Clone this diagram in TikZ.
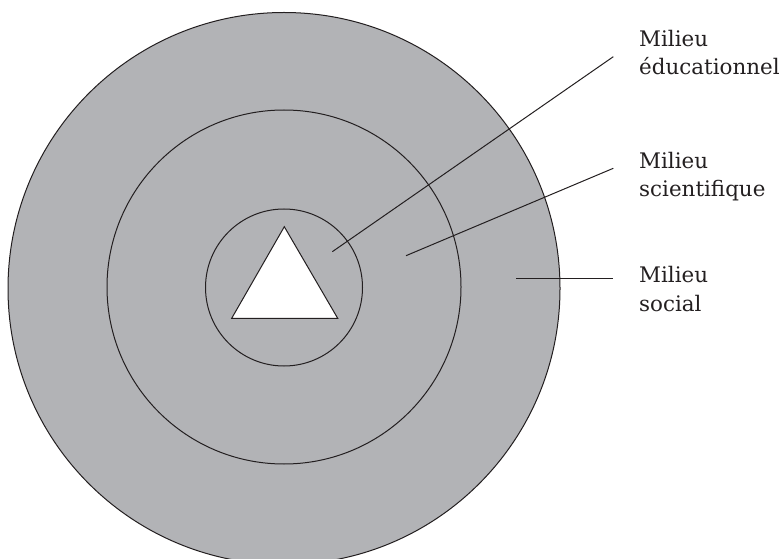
\documentclass[tikz,border=0pt]{standalone}
\usepackage{fontspec}
\setmainfont{DejaVu Serif}
\definecolor{ringgray}{RGB}{178,179,182}
\definecolor{inkline}{RGB}{35,31,32}
\begin{document}
\begin{tikzpicture}[x=1bp,y=-1bp,
  ring/.style={draw=inkline,line width=1bp,fill=ringgray},
  pointer/.style={draw=inkline,line width=1bp},
  label/.style={anchor=base west,align=left,inner sep=0pt,
    font=\fontsize{21.5}{29}\selectfont,text=inkline}]
\useasboundingbox (0,0) rectangle (782,559);
\begin{scope}
\clip (0,0) rectangle (782,559);
\path[ring] (284,288.5) circle[radius=276];
\end{scope}
\path[ring] (284,287) circle[radius=177];
\path[ring] (284,287.5) circle[radius=78.5];
\path[draw=inkline,line width=1bp,fill=white,line join=miter]
  (284.3,226.7) -- (337.7,318.3) -- (231.7,318.3) -- cycle;
\node[label] (edu) at (639,75) {Milieu\\éducationnel};
\node[label] (sci) at (639,197) {Milieu\\scientifique};
\node[label] (soc) at (639,311.7) {Milieu\\social};
\coordinate (i1) at (332.3,251.7);
\coordinate (e1) at (613.3,56.7);
\coordinate (i2) at (406,255.7);
\coordinate (e2) at (613.3,168.3);
\coordinate (i3) at (516,279);
\coordinate (e3) at (613.3,279);
\draw[pointer] (i1) -- (e1);
\draw[pointer] (i2) -- (e2);
\draw[pointer] (i3) -- (e3);
\end{tikzpicture}
\end{document}
